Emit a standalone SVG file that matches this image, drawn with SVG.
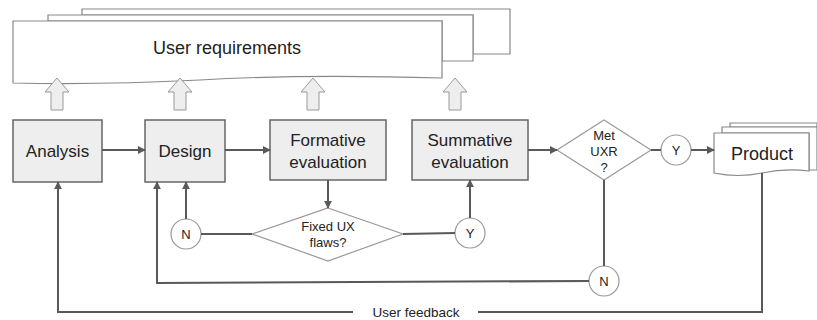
<svg xmlns="http://www.w3.org/2000/svg" width="817" height="320" viewBox="0 0 817 320">
<defs>
<marker id="ah" viewBox="0 0 10 10" refX="9" refY="5" markerWidth="4" markerHeight="4" orient="auto" markerUnits="strokeWidth">
<path d="M0,0 L10,5 L0,10 z" fill="#595959"/>
</marker>
</defs>
<style>
text{font-family:"Liberation Sans",Arial,sans-serif;fill:#222;text-anchor:middle}
.box{fill:#eeeeee;stroke:#666;stroke-width:1.5}
.doc{fill:#fff;stroke:#888;stroke-width:1.2}
.dia{fill:#fff;stroke:#999;stroke-width:1.2}
.circ{fill:#fff;stroke:#999;stroke-width:1.2}
.blk{fill:#eeeeee;stroke:#999;stroke-width:1}
.ln{fill:none;stroke:#595959;stroke-width:2}
.arr{marker-end:url(#ah)}
.t17{font-size:17px}
.t18{font-size:18px}
.t13{font-size:13px}
.tf{font-size:13.5px}
</style>
<g id="user-requirements">
<path class="doc" d="M82,9 H510 V54 H473 V15 H82 Z"/>
<path class="doc" d="M48,15 H473 V61 H442 V21 H48 Z"/>
<path class="doc" d="M13,21 H442 V78 Q300,74 200,80 Q100,85 13,83 Z"/>
<text class="t18" x="227" y="54">User requirements</text>
</g>
<g id="block-arrows">
<path class="blk" d="M57,78 L69,92 L63,92 L63,110 L51,110 L51,92 L45,92 Z"/>
<path class="blk" d="M180,78 L192,92 L186,92 L186,110 L174,110 L174,92 L168,92 Z"/>
<path class="blk" d="M313,78 L325,92 L319,92 L319,110 L307,110 L307,92 L301,92 Z"/>
<path class="blk" d="M455,78 L467,92 L461,92 L461,110 L449,110 L449,92 L443,92 Z"/>
</g>
<g id="analysis">
<rect class="box" x="13" y="120" width="89" height="62"/>
<text class="t17" x="57.5" y="157">Analysis</text>
</g>
<g id="design">
<rect class="box" x="145" y="120" width="80" height="62"/>
<text class="t17" x="185" y="157">Design</text>
</g>
<g id="formative">
<rect class="box" x="270" y="120" width="116" height="60"/>
<text class="t17" x="328" y="146">Formative</text>
<text class="t17" x="328" y="168">evaluation</text>
</g>
<g id="summative">
<rect class="box" x="412" y="120" width="116" height="60"/>
<text class="t17" x="470" y="146">Summative</text>
<text class="t17" x="470" y="168">evaluation</text>
</g>
<g id="met-uxr">
<path class="dia" d="M604,120 L651,150 L604,180 L557,150 Z"/>
<text class="t13" x="604" y="140">Met</text>
<text class="t13" x="604" y="156">UXR</text>
<text class="t13" x="604" y="172">?</text>
</g>
<g id="y-top">
<circle class="circ" cx="676" cy="150" r="15"/>
<text class="t13" x="676" y="155">Y</text>
</g>
<g id="product">
<path class="doc" d="M730,123 H817 V127 H730 Z"/>
<path class="doc" d="M722,127 H817 V170 H809 V133 H722 Z"/>
<path class="doc" d="M714,133 H809 V171 Q785,168 762,173 Q738,178 714,173 Z"/>
<text class="t18" x="762" y="160">Product</text>
</g>
<g id="fixed-ux">
<path class="dia" d="M328,208 L403,234 L328,261 L252,234 Z"/>
<text class="t13" x="328" y="231">Fixed UX</text>
<text class="t13" x="328" y="247">flaws?</text>
</g>
<g id="n-left">
<circle class="circ" cx="186" cy="234" r="15"/>
<text class="t13" x="186" y="239">N</text>
</g>
<g id="y-bottom">
<circle class="circ" cx="470" cy="233" r="15"/>
<text class="t13" x="470" y="238">Y</text>
</g>
<g id="n-bottom">
<circle class="circ" cx="604" cy="281" r="15"/>
<text class="t13" x="604" y="286">N</text>
</g>
<g id="connectors">
<line class="ln arr" x1="102" y1="150" x2="145" y2="150"/>
<line class="ln arr" x1="225" y1="150" x2="270" y2="150"/>
<line class="ln arr" x1="528" y1="150" x2="557" y2="150"/>
<line class="ln" x1="651" y1="150" x2="661" y2="150"/>
<line class="ln arr" x1="691" y1="150" x2="714" y2="150"/>
<line class="ln arr" x1="328" y1="180" x2="328" y2="208"/>
<line class="ln" x1="252" y1="234" x2="201" y2="234"/>
<line class="ln arr" x1="186" y1="219" x2="186" y2="182"/>
<line class="ln" x1="403" y1="234" x2="455" y2="233"/>
<line class="ln arr" x1="470" y1="218" x2="470" y2="180"/>
<line class="ln" x1="604" y1="180" x2="604" y2="266"/>
<polyline class="ln arr" points="589,281 157,283 157,182"/>
<polyline class="ln" points="762,173 762,312 478,312"/>
<polyline class="ln arr" points="353,312 58,312 58,182"/>
<text class="tf" x="416" y="317">User feedback</text>
</g>
</svg>
